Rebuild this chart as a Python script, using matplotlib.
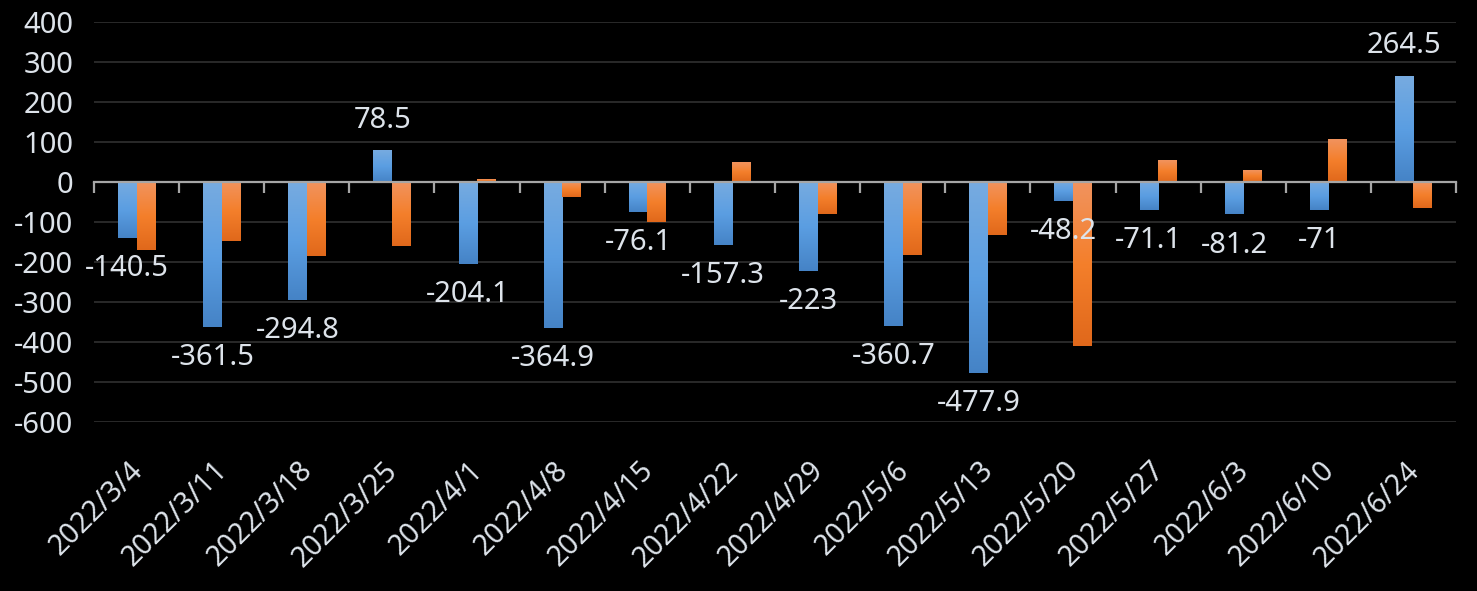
import numpy as np
import matplotlib.pyplot as plt
from matplotlib.colors import LinearSegmentedColormap

# weekly values
dates = ['2022/3/4', '2022/3/11', '2022/3/18', '2022/3/25', '2022/4/1', '2022/4/8',
         '2022/4/15', '2022/4/22', '2022/4/29', '2022/5/6', '2022/5/13', '2022/5/20',
         '2022/5/27', '2022/6/3', '2022/6/10', '2022/6/24']
blue_vals = [-140.5, -361.5, -294.8, 78.5, -204.1, -364.9, -76.1, -157.3,
             -223, -360.7, -477.9, -48.2, -71.1, -81.2, -71, 264.5]
orange_vals = [-170, -148, -185, -160, 7, -37, -100, 49,
               -80, -182, -132, -410, 54, 29, 107, -65]

plt.rcParams['font.family'] = ['Noto Sans', 'DejaVu Sans']
plt.rcParams['axes.unicode_minus'] = False
text_color = '#dde3ea'

fig = plt.figure(figsize=(14.77, 5.91), dpi=100, facecolor='black')
ax = fig.add_axes([0.0636, 0.286, 0.9222, 0.6768])
ax.set_facecolor('black')

blue_cmap = LinearSegmentedColormap.from_list('blue_grad', ['#77abe0', '#5b9ee2', '#4583c6'])
orange_cmap = LinearSegmentedColormap.from_list('orange_grad', ['#f1935e', '#f47f2b', '#e0681b'])
grad = np.linspace(0, 1, 256).reshape(-1, 1)

x = np.arange(len(dates))
w = 0.217


def gradient_bars(xs, vals, cmap):
    bars = ax.bar(xs, vals, w, color='none', zorder=3)
    for b in bars:
        x0 = b.get_x()
        lo, hi = sorted([b.get_y(), b.get_y() + b.get_height()])
        ax.imshow(grad, cmap=cmap, extent=(x0, x0 + w, lo, hi), origin='upper',
                  aspect='auto', zorder=3, interpolation='bilinear')
    return bars


gradient_bars(x - w / 2, blue_vals, blue_cmap)
gradient_bars(x + w / 2, orange_vals, orange_cmap)

ax.set_xlim(-0.5, len(dates) - 0.5)
ax.set_ylim(-600, 400)

# grid + axes styling
ax.set_yticks(range(-600, 401, 100))
ax.yaxis.grid(True, color='#2a2a2a', lw=1.4)
ax.set_axisbelow(True)
ax.tick_params(axis='y', length=0, pad=15, labelsize=21, labelcolor=text_color)
for s in ['left', 'right', 'top']:
    ax.spines[s].set_visible(False)

# category axis sits on zero, with ticks at category boundaries
ax.spines['bottom'].set_position(('data', 0))
ax.spines['bottom'].set_color('#a6a6a6')
ax.spines['bottom'].set_linewidth(1.6)
ax.spines['bottom'].set_zorder(4)
ax.set_xticks(x)
ax.set_xticklabels([])
ax.tick_params(axis='x', which='major', length=0)
ax.set_xticks(np.arange(-0.5, len(dates), 1), minor=True)
ax.tick_params(axis='x', which='minor', length=8, width=1.6, color='#a6a6a6', direction='out')

# date labels at the bottom of the plot
for i, d in enumerate(dates):
    ax.text(i - 0.1, -0.085, d, transform=ax.get_xaxis_transform(), rotation=45,
            ha='right', va='top', rotation_mode='anchor', fontsize=20.5, color=text_color)

# data labels for the blue series
for i, v in enumerate(blue_vals):
    off = 22 if v >= 0 else -22
    ax.annotate(f'{v:g}', xy=(i - w / 2, v), xytext=(0, off), textcoords='offset points',
                ha='center', va='center', fontsize=21, color=text_color, zorder=6)

fig.savefig('out.png', dpi=100, facecolor='black')
